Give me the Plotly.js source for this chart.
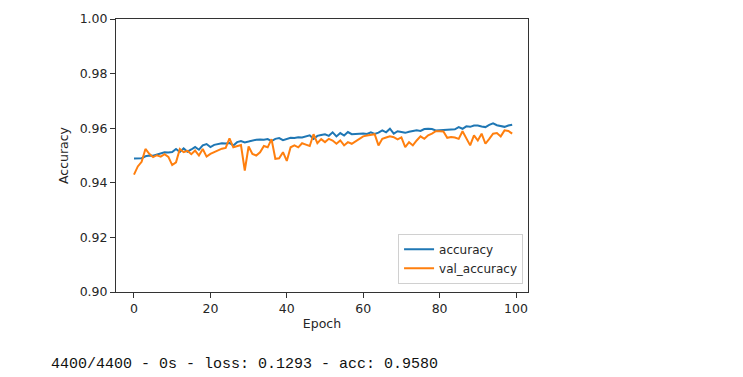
<!DOCTYPE html>
<html>
<head>
<meta charset="utf-8">
<script src="https://cdn.plot.ly/plotly-3.0.1.min.js"></script>
<style>
html,body{margin:0;padding:0;background:#fff;}
#chart{width:743px;height:377px;}
</style>
</head>
<body>
<div id="chart"></div>
<script>
const epochs = Array.from({length: 100}, (_, i) => i);
const accuracy = [
0.9489,0.9489,0.9490,0.9497,0.9500,0.9499,0.9503,0.9508,0.9512,0.9511,
0.9513,0.9524,0.9513,0.9526,0.9514,0.9522,0.9531,0.9521,0.9537,0.9542,
0.9531,0.9539,0.9543,0.9545,0.9544,0.9546,0.9537,0.9549,0.9553,0.9548,
0.9551,0.9555,0.9558,0.9559,0.9558,0.9560,0.9553,0.9561,0.9564,0.9556,
0.9560,0.9565,0.9564,0.9567,0.9566,0.9570,0.9574,0.9561,0.9572,0.9575,
0.9578,0.9572,0.9585,0.9570,0.9582,0.9573,0.9586,0.9578,0.9580,0.9580,
0.9581,0.9579,0.9585,0.9579,0.9584,0.9592,0.9585,0.9598,0.9580,0.9589,
0.9586,0.9583,0.9587,0.9590,0.9592,0.9590,0.9597,0.9598,0.9597,0.9592,
0.9593,0.9595,0.9594,0.9595,0.9596,0.9604,0.9598,0.9607,0.9605,0.9610,
0.9610,0.9606,0.9604,0.9612,0.9618,0.9611,0.9608,0.9605,0.9610,0.9613];
const valAccuracy = [
0.9430,0.9460,0.9477,0.9524,0.9506,0.9494,0.9501,0.9496,0.9505,0.9495,
0.9465,0.9475,0.9524,0.9512,0.9517,0.9505,0.9518,0.9500,0.9524,0.9496,
0.9506,0.9512,0.9518,0.9525,0.9528,0.9563,0.9530,0.9533,0.9538,0.9445,
0.9533,0.9506,0.9500,0.9512,0.9535,0.9530,0.9560,0.9488,0.9490,0.9512,
0.9480,0.9530,0.9537,0.9530,0.9545,0.9540,0.9535,0.9578,0.9545,0.9560,
0.9549,0.9561,0.9555,0.9543,0.9555,0.9537,0.9549,0.9543,0.9552,0.9561,
0.9570,0.9573,0.9575,0.9578,0.9537,0.9561,0.9566,0.9570,0.9567,0.9559,
0.9566,0.9531,0.9549,0.9537,0.9555,0.9570,0.9561,0.9574,0.9580,0.9589,
0.9589,0.9588,0.9565,0.9568,0.9566,0.9561,0.9589,0.9561,0.9537,0.9574,
0.9555,0.9580,0.9543,0.9561,0.9580,0.9582,0.9570,0.9592,0.9590,0.9580];
const xTicks = [0, 20, 40, 60, 80, 100];
const yTicks = [0.90, 0.92, 0.94, 0.96, 0.98, 1.00];
const yTickText = ['0.90','0.92','0.94','0.96','0.98','1.00'];
const logText = '4400/4400 - 0s - loss: 0.1293 - acc: 0.9580';

const font = {family: 'DejaVu Sans, sans-serif', size: 12.5, color: '#262626'};
const traces = [
  {x: epochs, y: accuracy, type: 'scatter', mode: 'lines', name: 'accuracy',
   line: {color: '#1f77b4', width: 2}},
  {x: epochs, y: valAccuracy, type: 'scatter', mode: 'lines', name: 'val_accuracy',
   line: {color: '#ff7f0e', width: 2}}
];
const axisCommon = {
  showgrid: false, zeroline: false, showline: true, mirror: true,
  linecolor: '#333', linewidth: 1, ticks: 'outside', ticklen: 5,
  tickcolor: '#333', tickwidth: 1, tickfont: font
};
const layout = {
  width: 743, height: 377,
  margin: {l: 116, r: 215, t: 19, b: 85},
  paper_bgcolor: '#fff', plot_bgcolor: '#fff',
  font: font,
  showlegend: true,
  legend: {x: 0.988, y: 0.03, xanchor: 'right', yanchor: 'bottom',
    bgcolor: 'rgba(255,255,255,0.8)', bordercolor: '#d0d0d0', borderwidth: 1,
    font: {family: 'DejaVu Sans, sans-serif', size: 12, color: '#262626'},
    tracegroupgap: 0},
  xaxis: Object.assign({}, axisCommon, {
    range: [-4.71, 103.14], tickvals: xTicks,
    title: {text: 'Epoch', font: font, standoff: 4}
  }),
  yaxis: Object.assign({}, axisCommon, {
    range: [0.90, 1.00], tickvals: yTicks, ticktext: yTickText,
    title: {text: 'Accuracy', font: font, standoff: 8}
  }),
  annotations: [{
    text: logText, xref: 'paper', yref: 'paper',
    x: -0.163, y: -0.264, xanchor: 'left', yanchor: 'middle',
    showarrow: false,
    font: {family: 'Liberation Mono, DejaVu Sans Mono, monospace', size: 15, color: '#111'}
  }]
};
Plotly.newPlot('chart', traces, layout, {displayModeBar: false, staticPlot: true});
</script>
</body>
</html>
